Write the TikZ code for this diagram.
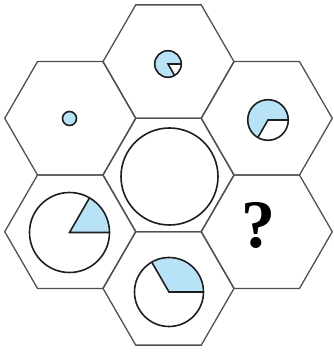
\documentclass[tikz,border=0pt]{standalone}
\usepackage{fontspec}
\setmainfont{Liberation Serif}
\usetikzlibrary{shapes.geometric}
\definecolor{pieblue}{RGB}{184,226,246}
\definecolor{hexgray}{RGB}{80,80,80}
\definecolor{ringcol}{RGB}{30,30,30}
\tikzset{
  hexa/.style={regular polygon, regular polygon sides=6, minimum size=131pt, inner sep=0pt, draw=hexgray, line width=1.3pt},
  ring/.style={circle, inner sep=0pt, draw=ringcol, line width=1.6pt},
  radius line/.style={draw=ringcol, line width=1.6pt, line join=miter},
  bluefill/.style={fill=pieblue},
  qmark/.style={inner sep=0pt, font=\bfseries\fontsize{68}{68}\selectfont}
}
\begin{document}
\begin{tikzpicture}[x=1pt,y=1pt]
\useasboundingbox (0,0) rectangle (334,353);
% hexagons
\node[hexa] (hC)  at (168.5,178.0) {};
\node[hexa] (hT)  at (168.5,291.4) {};
\node[hexa] (hB)  at (168.5,64.6) {};
\node[hexa] (hUL) at (70.25,234.7) {};
\node[hexa] (hUR) at (266.75,234.7) {};
\node[hexa] (hLL) at (70.25,121.3) {};
\node[hexa] (hLR) at (266.75,121.3) {};
% upper-left: small full circle
\node[ring, bluefill, minimum size=14pt] (cUL) at (69.5,234.5) {};
% top: blue with white 60 deg wedge
\coordinate (pT) at (168,289);
\fill[pieblue] (pT) -- ++(0:13.3) arc[start angle=0, end angle=300, radius=13.3] -- cycle;
\draw[radius line] (pT) ++(0:13.3) -- (pT) -- ++(300:13.3);
\node[ring, minimum size=26.6pt] (cT) at (pT) {};
% upper-right: blue with white 120 deg wedge
\coordinate (pUR) at (268,233);
\fill[pieblue] (pUR) -- ++(0:20.3) arc[start angle=0, end angle=240, radius=20.3] -- cycle;
\draw[radius line] (pUR) ++(0:20.3) -- (pUR) -- ++(240:20.3);
\node[ring, minimum size=40.6pt] (cUR) at (pUR) {};
% centre: empty circle
\node[ring, minimum size=97pt] (cC) at (169.5,176.5) {};
% lower-left: 60 deg blue
\coordinate (pLL) at (69.5,120.5);
\fill[pieblue] (pLL) -- ++(0:40) arc[start angle=0, end angle=60, radius=40] -- cycle;
\draw[radius line] (pLL) ++(0:40) -- (pLL) -- ++(60:40);
\node[ring, minimum size=80pt] (cLL) at (pLL) {};
% bottom: 120 deg blue
\coordinate (pB) at (169,61);
\fill[pieblue] (pB) -- ++(0:34.5) arc[start angle=0, end angle=120, radius=34.5] -- cycle;
\draw[radius line] (pB) ++(0:34.5) -- (pB) -- ++(120:34.5);
\node[ring, minimum size=69pt] (cB) at (pB) {};
% lower-right: question mark
\node[qmark] (q) at (258,128) {?};
\end{tikzpicture}
\end{document}
